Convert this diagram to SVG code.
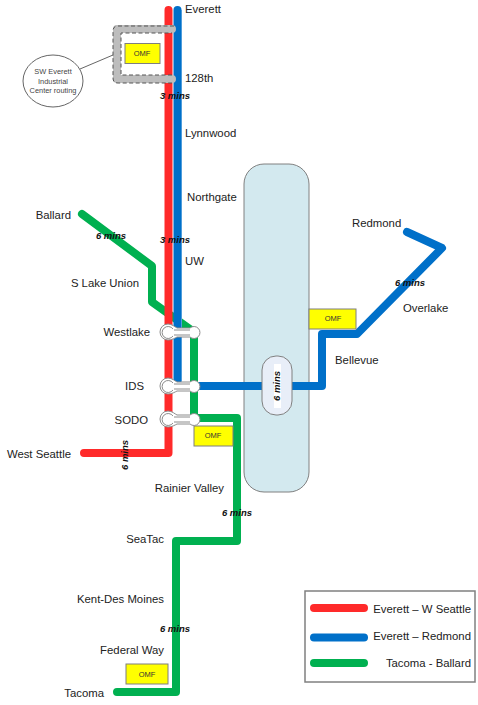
<svg xmlns="http://www.w3.org/2000/svg" width="478" height="705" viewBox="0 0 478 705">
<style>
text{font-family:"Liberation Sans",Arial,sans-serif;font-size:11.35px;fill:#222}
.e{text-anchor:end}
.t{font-weight:bold;font-style:italic;font-size:9.5px;fill:#111;text-anchor:middle}
.o{font-size:7.5px;text-anchor:middle;fill:#333}
.c{font-size:7.4px;text-anchor:middle;fill:#444}
.l{fill:none;stroke-width:8;stroke-linecap:round;stroke-linejoin:round}
.r{stroke:#ff2a2a}.b{stroke:#0070c9}.g{stroke:#00b050}
.y{fill:#ffff00;stroke:#7f7f7f;stroke-width:1}
.s{fill:#fff;stroke:#8c8c8c;stroke-width:1}
.i{fill:none;stroke:#8c8c8c;stroke-width:1}
</style>
<rect id="lake" x="244" y="164" width="65" height="328" rx="20" fill="#d3e9ef" stroke="#808080"/>
<g id="connectors">
<path class="l g" d="M82,214L152,266V302L194,332V418H237V541H176V692H117"/>
<path class="l r" d="M168.500,10V453H84"/>
<path d="M181.500,10V381" fill="none" stroke="#9dc8ec" stroke-width="1"/>
<path class="l b" d="M177.500,10V384"/>
<path class="l b" d="M190,386H322V334H357L442,248L407,232"/>
<path d="M80,69L113,55" stroke="#666" fill="none"/>
</g>
<g id="sw-everett-routing">
<path d="M172,29H117V79H172" fill="none" stroke="#bdbdbd" stroke-width="8" stroke-linecap="round" stroke-linejoin="round"/>
<path d="M174,26H118Q113,26 113,31V78Q113,83 118,83H172M172,75H121V33H172" fill="none" stroke="#555" stroke-width="1" stroke-dasharray="4 2.500"/>
</g>
<g id="sw-everett-label">
<ellipse cx="53" cy="81" rx="30" ry="26" fill="#fff" stroke="#666"/>
<text class="c" x="53" y="74">SW Everett</text>
<text class="c" x="53" y="84">Industrial</text>
<text class="c" x="53" y="93">Center routing</text>
</g>
<g id="omf-1"><rect class="y" x="125" y="43.500" width="35" height="20"/><text class="o" x="142" y="56">OMF</text></g>
<g id="omf-2"><rect class="y" x="194" y="426" width="39" height="20"/><text class="o" x="213" y="438">OMF</text></g>
<g id="omf-3"><rect class="y" x="309" y="309" width="47" height="20"/><text class="o" x="333" y="321">OMF</text></g>
<g id="omf-4"><rect class="y" x="126" y="664" width="42" height="20"/><text class="o" x="147" y="677">OMF</text></g>
<g id="westlake"><path class="s" d="M168,324C172,324 175,327 177,328H190A6,6 0 1 1 190,337H177C175,338 172,340 168,340A8,8 0 0 1 168,324Z"/><path class="i" d="M174,330H190M174,335H190M173,329A6,6 0 1 0 173,336"/><text class="e" x="150" y="336">Westlake</text></g>
<g id="ids"><path class="s" d="M168,378C172,378 175,381 177,382H190A6,6 0 1 1 190,391H177C175,392 172,394 168,394A8,8 0 0 1 168,378Z"/><path class="i" d="M174,384H190M174,389H190M173,383A6,6 0 1 0 173,390"/><text class="e" x="144" y="390">IDS</text></g>
<g id="sodo"><path class="s" d="M168,411C172,411 175,414 177,415H190A6,6 0 1 1 190,424H177C175,425 172,427 168,427A8,8 0 0 1 168,411Z"/><path class="i" d="M174,417H190M174,422H190M173,416A6,6 0 1 0 173,423"/><text class="e" x="148" y="424">SODO</text></g>
<g id="tunnel-time"><rect x="262" y="356" width="30" height="59" rx="14" fill="#e8eef8" stroke="#808080"/><rect x="274" y="364" width="7" height="44" fill="#fff"/><text class="t" transform="translate(280,386) rotate(-90)">6 mins</text></g>
<g id="labels">
<text x="185" y="13">Everett</text>
<text x="185" y="82">128th</text>
<text x="185" y="137">Lynnwood</text>
<text x="187" y="201">Northgate</text>
<text x="185" y="265">UW</text>
<text class="e" x="71" y="219">Ballard</text>
<text class="e" x="139" y="287">S Lake Union</text>
<text x="352" y="227">Redmond</text>
<text x="403" y="312">Overlake</text>
<text x="335" y="364">Bellevue</text>
<text class="e" x="71" y="458">West Seattle</text>
<text class="e" x="224" y="492">Rainier Valley</text>
<text class="e" x="164" y="543">SeaTac</text>
<text class="e" x="164" y="603">Kent-Des Moines</text>
<text class="e" x="164" y="654">Federal Way</text>
<text class="e" x="104" y="697">Tacoma</text>
<text class="t" x="175" y="99">3 mins</text>
<text class="t" x="175" y="243">3 mins</text>
<text class="t" x="111" y="239">6 mins</text>
<text class="t" x="410" y="286">6 mins</text>
<text class="t" x="237" y="516">6 mins</text>
<text class="t" x="175" y="632">6 mins</text>
<text class="t" transform="translate(128,455) rotate(-90)">6 mins</text>
</g>
<g id="legend">
<rect x="305" y="591" width="170" height="91" fill="#fff" stroke="#808080" stroke-width="1.500"/>
<path class="l r" d="M314,608H364"/><path class="l b" d="M314,637.500H364"/><path class="l g" d="M314,663H364"/>
<text class="e" x="471" y="613">Everett – W Seattle</text>
<text class="e" x="471" y="640">Everett – Redmond</text>
<text class="e" x="471" y="667">Tacoma - Ballard</text>
</g>
</svg>
